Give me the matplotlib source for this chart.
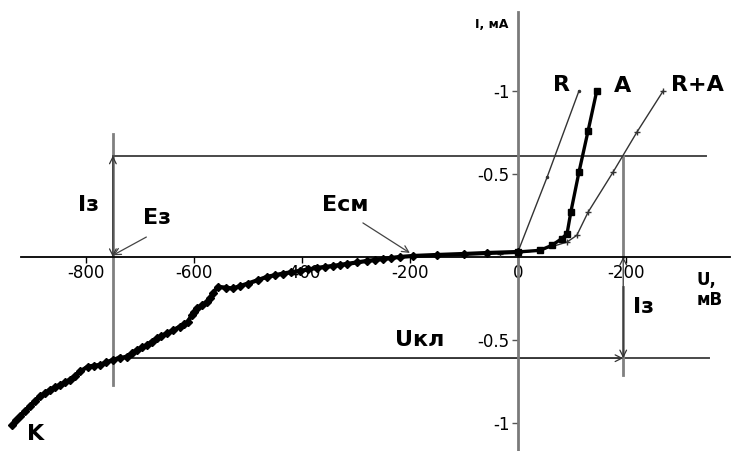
import matplotlib
matplotlib.use("Agg")
import matplotlib.pyplot as plt

# polarization curves, U in mV, I in mA
k_u = [-937, -930, -922, -913, -904, -895, -885, -876, -867, -858, -848, -839,
       -830, -820, -811, -796, -785, -774, -762, -750, -737, -724, -715, -706,
       -696, -687, -678, -669, -660, -650, -638, -626, -618, -611, -604, -599,
       -594, -585, -576, -570, -565, -556, -540, -528, -514, -500, -482, -465,
       -450, -435, -420, -404, -388, -372, -358, -343, -330, -317, -298, -280,
       -265, -250, -235, -219, -194, -150, -100, -57, 0]
k_i = [-1.01, -0.985, -0.96, -0.93, -0.90, -0.87, -0.84, -0.82, -0.80, -0.785,
       -0.77, -0.755, -0.74, -0.715, -0.69, -0.66, -0.655, -0.65, -0.635, -0.62,
       -0.61, -0.60, -0.58, -0.56, -0.545, -0.53, -0.51, -0.49, -0.475, -0.46,
       -0.44, -0.42, -0.405, -0.39, -0.35, -0.33, -0.31, -0.29, -0.27, -0.245,
       -0.22, -0.18, -0.185, -0.19, -0.175, -0.16, -0.14, -0.12, -0.11, -0.10,
       -0.092, -0.084, -0.075, -0.066, -0.06, -0.054, -0.048, -0.042, -0.033,
       -0.024, -0.018, -0.012, -0.006, 0.0, 0.006, 0.012, 0.018, 0.024, 0.03]

a_u = [0, 41, 63, 81, 91, 98, 113, 130, 146]
a_i = [0.03, 0.04, 0.07, 0.11, 0.14, 0.27, 0.51, 0.76, 1.0]

r_u = [0, 54, 113]
r_i = [0.03, 0.48, 1.0]

ra_u = [-33, 0, 41, 91, 109, 130, 176, 220, 269]
ra_i = [0.02, 0.024, 0.04, 0.09, 0.13, 0.27, 0.51, 0.75, 1.0]

# construction values
e_z = -750      # Eз, mV
e_cm = -200     # Eсм, mV
u_r = 195       # right construction line, mV
i_z = 0.61      # Iз, mA

x_ticks = [-800, -600, -400, -200, 0, 200]
x_labels = ["-800", "-600", "-400", "-200", "0", "-200"]
y_ticks = [1, 0.5, -0.5, -1]
y_labels = ["-1", "-0.5", "-0.5", "-1"]

plt.rcParams["font.family"] = ["DejaVu Sans"]

fig = plt.figure(figsize=(7.35, 4.51), dpi=100)
ax = fig.add_axes([0, 0, 1, 1])
ax.set_xlim(-959, 402)
ax.set_ylim(-1.169, 1.548)

for s in ("top", "right"):
    ax.spines[s].set_visible(False)
ax.spines["left"].set_position(("data", 0))
ax.spines["bottom"].set_position(("data", 0))
ax.spines["left"].set_color("#7a7a7a")
ax.spines["left"].set_linewidth(2)
ax.spines["bottom"].set_linewidth(1.3)
ax.spines["bottom"].set_bounds(-920, 393)
ax.spines["left"].set_bounds(-1.17, 1.476)

ax.set_xticks(x_ticks, x_labels, fontsize=12)
ax.set_yticks(y_ticks, y_labels, fontsize=12)
ax.tick_params(axis="x", direction="out", length=4, pad=1, width=1)
ax.tick_params(axis="y", direction="out", length=4, pad=2, width=1,
               color="#555555")

# construction lines
gray = "#808080"
dark = "#4a4a4a"
ax.plot([e_z, e_z], [0.74, -0.77], color=gray, lw=2, zorder=1)
ax.plot([e_z, 348], [i_z, i_z], color=dark, lw=1.4, zorder=1)
ax.plot([e_z, 354], [-i_z, -i_z], color=dark, lw=1.4, zorder=1)
ax.plot([u_r, u_r], [i_z, 0], color=gray, lw=2, zorder=1)
ax.plot([u_r, u_r], [-0.18, -0.71], color=gray, lw=2, zorder=1)

arr = dict(arrowstyle="<->", color="#333333", lw=0.9, shrinkA=0, shrinkB=0,
           mutation_scale=12)
ax.annotate("", xy=(e_z, i_z), xytext=(e_z, 0), arrowprops=arr, zorder=2)
ax.annotate("", xy=(e_z, -i_z), xytext=(u_r, -i_z), arrowprops=arr, zorder=2)
ax.annotate("", xy=(u_r, 0), xytext=(u_r, -i_z), arrowprops=arr, zorder=2)

one = dict(arrowstyle="->", color="#444444", lw=0.9, shrinkA=0, shrinkB=0,
           mutation_scale=12)
ax.annotate("", xy=(e_z, 0.01), xytext=(-688, 0.12), arrowprops=one)
ax.annotate("", xy=(e_cm, 0.024), xytext=(-287, 0.205), arrowprops=one)

# curves
ax.plot(k_u, k_i, color="black", lw=3, marker="D", ms=4.5, zorder=4)
ax.plot(a_u, a_i, color="black", lw=2.4, marker="s", ms=4, zorder=4)
ax.plot(r_u, r_i, color="#333333", lw=1, marker=".", ms=3, zorder=3)
ax.plot(ra_u, ra_i, color="#333333", lw=1, marker="+", ms=4, zorder=3)

# labels
bold = dict(fontsize=16, fontweight="bold", ha="center", va="center")
ax.text(80, 1.036, "R", **bold)
ax.text(193, 1.03, "A", **bold)
ax.text(333, 1.036, "R+A", **bold)
ax.text(-894, -1.066, "K", **bold)
ax.text(-795, 0.31, "Iз", **bold)
ax.text(-669, 0.235, "Eз", **bold)
ax.text(-319, 0.31, "Eсм", **bold)
ax.text(-181, -0.50, "Uкл", **bold)
ax.text(233, -0.30, "Iз", **bold)
ax.text(331, -0.20, "U,\nмВ", fontsize=12, fontweight="bold",
        ha="left", va="center", linespacing=1.1)
ax.text(-48, 1.40, "I, мА", fontsize=9, fontweight="bold",
        ha="center", va="center")

fig.savefig("out.png", dpi=100)
